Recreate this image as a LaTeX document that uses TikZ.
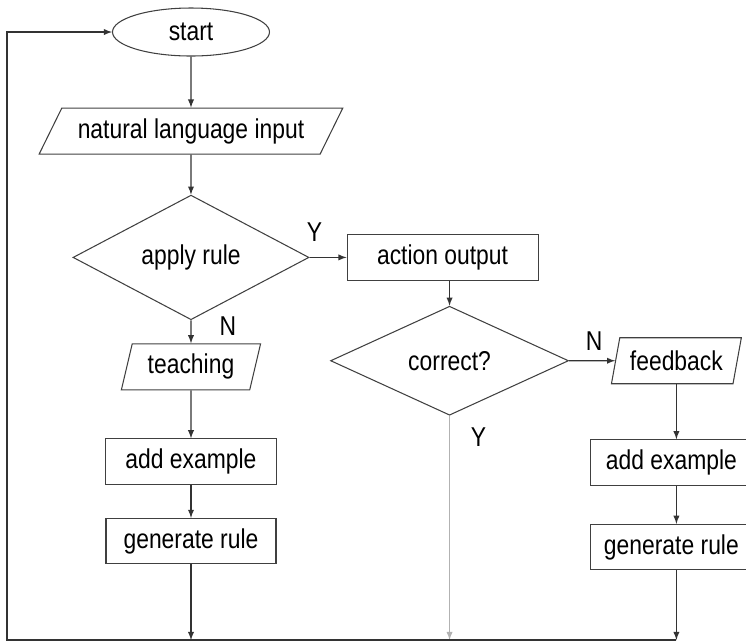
\documentclass[tikz,border=0pt]{standalone}
\usepackage{fontspec}
\setmainfont{Liberation Sans}[FakeStretch=0.84]
\usetikzlibrary{shapes,arrows,positioning}

\begin{document}
\begin{tikzpicture}[
  font=\fontsize{15.5}{18}\selectfont,
  line width=0.6pt,
  >=latex,
  term/.style={draw=black!75, ellipse, minimum width=3.14cm, minimum height=0.96cm, inner sep=2pt},
  io/.style={draw=black!75, trapezium, trapezium left angle=76, trapezium right angle=104, trapezium stretches=true, minimum height=0.92cm, inner sep=3pt},
  proc/.style={draw=black!75, rectangle, minimum height=0.91cm, inner sep=3pt},
  decision/.style={draw=black!75, diamond, minimum width=4.72cm, minimum height=2.18cm, inner sep=0pt},
  flow/.style={->, color=black!80},
  lbl/.style={inner sep=0pt, anchor=center}
]
  \useasboundingbox (0,0) rectangle (14.92,-12.86);

  \node[term] (start) at (3.82,-0.64) {start};
  \node[io, trapezium left angle=60, trapezium right angle=120, minimum width=6.08cm, below=1.02cm of start] (input) {natural language input};
  \node[decision, below=0.8cm of input] (applyrule) {apply rule};
  \node[io, minimum width=2.8cm, below=0.46cm of applyrule] (teaching) {teaching};
  \node[proc, minimum width=3.42cm, below=0.96cm of teaching] (addex) {add example};
  \node[proc, minimum width=3.4cm, below=0.66cm of addex] (genrule) {generate rule};

  \node[proc, minimum width=3.82cm, right=0.74cm of applyrule] (actout) {action output};
  \node[decision, minimum width=4.76cm, below=0.5cm of actout, xshift=0.14cm] (correct) {correct?};
  \node[io, minimum width=2.6cm, right=0.92cm of correct] (feedback) {feedback};
  \node[proc, minimum width=3.24cm, below=1.1cm of feedback, xshift=-0.1cm] (addexr) {add example};
  \node[proc, minimum width=3.24cm, below=0.76cm of addexr] (genruler) {generate rule};

  % branch labels
  \node[lbl] (yes1) at ([xshift=0.1cm, yshift=0.5cm]applyrule.east) {Y};
  \node[lbl] (no1) at ([xshift=0.74cm, yshift=-0.12cm]applyrule.south) {N};
  \node[lbl] (no2) at ([xshift=0.5cm, yshift=0.4cm]correct.east) {N};
  \node[lbl] (yes2) at ([xshift=0.58cm, yshift=-0.42cm]correct.south) {Y};

  \coordinate (loopleft) at (0.14,-12.8);

  \draw[flow] (start) -- (input);
  \draw[flow] (input) -- (applyrule);
  \draw[flow] (applyrule) -- (teaching);
  \draw[flow] (teaching) -- (addex);
  \draw[flow] (addex) -- (genrule);
  \draw[flow] (applyrule) -- (actout);
  \draw[flow] (correct.north |- actout.south) -- (correct.north);
  \draw[flow] (correct) -- (feedback);
  \draw[flow] (feedback.south) -- (feedback.south |- addexr.north);
  \draw[flow] (feedback.south |- addexr.south) -- (feedback.south |- genruler.north);
  \draw[flow] (genrule) -- (genrule |- loopleft);
  \draw[flow, color=black!30] (correct) -- (correct |- loopleft);
  \draw[flow] (feedback.south |- genruler.south) -- (feedback.south |- loopleft);
  \draw[flow] (feedback.south |- loopleft) -- (loopleft) |- (start);
\end{tikzpicture}
\end{document}
